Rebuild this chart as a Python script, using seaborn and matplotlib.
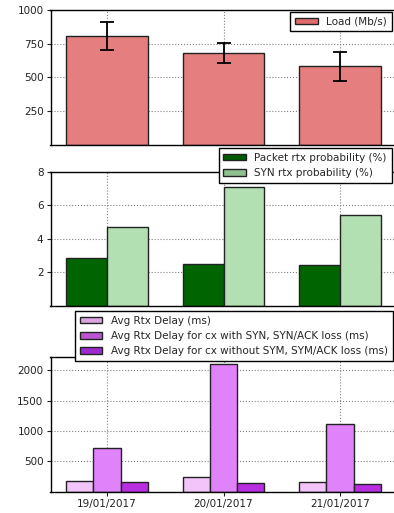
import matplotlib
matplotlib.use("Agg")
import matplotlib.pyplot as plt
from matplotlib.patches import Patch
import seaborn as sns
import pandas as pd
import numpy as np

# ---- data ----
dates = ["19/01/2017", "20/01/2017", "21/01/2017"]

load_mbps = [807, 680, 581]
load_err = [103, 75, 109]

pkt_rtx_prob = [2.84, 2.50, 2.42]
syn_rtx_prob = [4.71, 7.12, 5.41]

avg_rtx_delay = [176, 243, 160]
avg_rtx_delay_syn_loss = [726, 2107, 1117]
avg_rtx_delay_no_syn_loss = [155, 149, 122]

load_label = "Load (Mb/s)"
prob_labels = ["Packet rtx probability (%)", "SYN rtx probability (%)"]
delay_labels = ["Avg Rtx Delay (ms)",
                "Avg Rtx Delay for cx with SYN, SYN/ACK loss (ms)",
                "Avg Rtx Delay for cx without SYM, SYM/ACK loss (ms)"]

# ---- style ----
sns.set_style("ticks")
plt.rcParams["font.family"] = ["DejaVu Sans"]
plt.rcParams["font.size"] = 7.5

load_color = "#e57f7f"
prob_colors = ["#006400", "#b3e0b3"]
delay_colors = ["#f2c4fa", "#e083fa", "#b82ee0"]
# legend swatches are rendered a touch darker than the bars
load_leg = ["#df6c6c"]
prob_leg = ["#005a00", "#90c090"]
delay_leg = ["#dca4de", "#bb55d0", "#9c2ace"]

W, H = 394, 513
fig = plt.figure(figsize=(W / 100, H / 100), dpi=100)

left = 50.5 / W
width = (396.5 - 50.5) / W


def frame(top_px, bot_px):
    return fig.add_axes([left, 1 - bot_px / H, width, (bot_px - top_px) / H])


ax1 = frame(10, 144.5)
ax2 = frame(172, 305.7)
ax3 = frame(357.3, 491.7)

edge = dict(edgecolor="#222222", linewidth=1.0)

# top: load with error bars
df_load = pd.DataFrame({"date": dates, "value": load_mbps})
sns.barplot(data=df_load, x="date", y="value", color=load_color, saturation=1,
            width=0.7, ax=ax1, errorbar=None, **edge)
ax1.errorbar(np.arange(len(dates)), load_mbps, yerr=load_err, fmt="none",
             ecolor="black", elinewidth=1.3, capsize=5, capthick=1.3, zorder=5)

# middle: retransmission probabilities
df_prob = pd.DataFrame({
    "date": dates * 2,
    "value": pkt_rtx_prob + syn_rtx_prob,
    "series": [prob_labels[0]] * 3 + [prob_labels[1]] * 3,
})
sns.barplot(data=df_prob, x="date", y="value", hue="series", palette=prob_colors,
            saturation=1, width=0.7, ax=ax2, legend=False, errorbar=None, **edge)

# bottom: retransmission delays
df_delay = pd.DataFrame({
    "date": dates * 3,
    "value": avg_rtx_delay + avg_rtx_delay_syn_loss + avg_rtx_delay_no_syn_loss,
    "series": [delay_labels[0]] * 3 + [delay_labels[1]] * 3 + [delay_labels[2]] * 3,
})
sns.barplot(data=df_delay, x="date", y="value", hue="series", palette=delay_colors,
            saturation=1, width=0.7, ax=ax3, legend=False, errorbar=None, **edge)

for ax in (ax1, ax2, ax3):
    ax.set_xlim(-0.485, 2.485)
    ax.set_xlabel("")
    ax.set_ylabel("")
    ax.set_axisbelow(True)
    ax.grid(True, linestyle=":", color="#808080", linewidth=0.8)
    for s in ax.spines.values():
        s.set_color("black")
        s.set_linewidth(1.0)
    ax.spines["right"].set_visible(False)
    ax.tick_params(direction="out", length=3, width=0.8, colors="#222222",
                   labelsize=7.5, pad=2)

ax1.set_ylim(0, 1000)
ax1.set_yticks([250, 500, 750, 1000])
ax2.set_ylim(0, 8)
ax2.set_yticks([2, 4, 6, 8])
ax3.set_ylim(0, max(avg_rtx_delay_syn_loss) * 1.05)
ax3.set_yticks([500, 1000, 1500, 2000])

for ax in (ax1, ax2):
    ax.tick_params(axis="x", labelbottom=False, length=0)
ax3.tick_params(axis="x", labelsize=7.5)

leg_kw = dict(loc="upper right", bbox_transform=fig.transFigure, borderaxespad=0,
              fancybox=False, framealpha=1, edgecolor="black", fontsize=7.5,
              handlelength=2.2, handleheight=0.6, borderpad=0.45, labelspacing=0.5)


def handles(colors, labels):
    return [Patch(facecolor=c, edgecolor="#222222", linewidth=1.0, label=l)
            for c, l in zip(colors, labels)]


l1 = ax1.legend(handles=handles(load_leg, [load_label]),
                bbox_to_anchor=(391.5 / W, 1 - 12 / H), **leg_kw)
l2 = ax2.legend(handles=handles(prob_leg, prob_labels),
                bbox_to_anchor=(391.5 / W, 1 - 148 / H), **leg_kw)
l3 = ax3.legend(handles=handles(delay_leg, delay_labels),
                bbox_to_anchor=(392.5 / W, 1 - 311 / H), **leg_kw)
for lg in (l1, l2, l3):
    lg.get_frame().set_linewidth(1.0)
    lg.set_zorder(10)

fig.savefig("out.png", dpi=100)
